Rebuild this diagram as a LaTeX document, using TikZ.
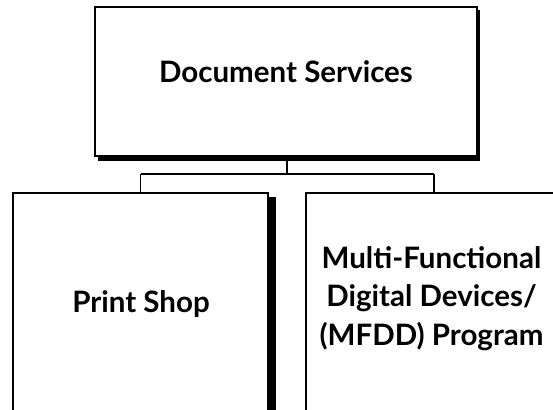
\documentclass[tikz,border=0pt]{standalone}
\usepackage{fontspec}
\setmainfont{Lato}
\begin{document}
\begin{tikzpicture}[x=1pt,y=-1pt,
  box/.style={draw=black,fill=white,line width=1.3pt,rectangle,inner sep=0pt},
  shadow/.style={fill=black,draw=none},
  lbl/.style={font=\bfseries\fontsize{29.5}{34}\selectfont,anchor=base,inner sep=0pt},
  conn/.style={draw=black,line width=1.3pt}]
\useasboundingbox (0,0) rectangle (553,409);
\begin{scope}
\clip (0,0) rectangle (553,409);
% shadows
\fill[shadow] (98,10) rectangle (480,161);
\fill[shadow] (20,197) rectangle (276,430);
\fill[shadow] (313,197) rectangle (570,430);
% boxes
\node[box,minimum width=382pt,minimum height=149pt] (top) at (286,81.5) {};
\node[box,minimum width=255pt,minimum height=237pt] (ps) at (140.5,311.5) {};
\node[box,minimum width=256pt,minimum height=237pt] (mf) at (434,311.5) {};
\end{scope}
% connectors
\coordinate (j) at (287,174);
\draw[conn] (top.south -| j) -- (j);
\draw[conn] (ps.north |- j) -- (mf.north |- j);
\draw[conn] (ps.north |- j) -- (ps.north);
\draw[conn] (mf.north |- j) -- (mf.north);
% text
\node[lbl] (t1) at (286,83) {Document Services};
\node[lbl] (t2) at (141,312) {Print Shop};
\node[lbl] (t3) at (431.5,268) {Multi-Functional};
\node[lbl] (t4) at (431.5,306.5) {Digital Devices/};
\node[lbl] (t5) at (431.5,345.5) {(MFDD) Program};
\end{tikzpicture}
\end{document}
